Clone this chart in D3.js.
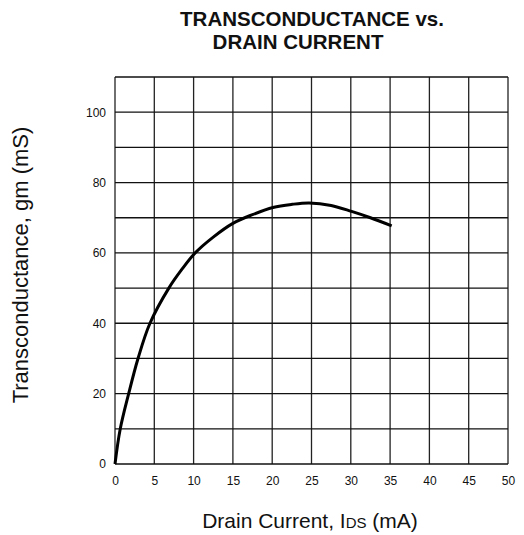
<!DOCTYPE html>
<html>
<head>
<meta charset="utf-8">
<script src="https://cdn.jsdelivr.net/npm/d3@7/dist/d3.min.js"></script>
<style>
  html, body { margin: 0; padding: 0; background: #fff; }
  svg { display: block; font-family: "Liberation Sans", Arial, Helvetica, sans-serif; }
</style>
</head>
<body>
<svg id="chart" width="524" height="535"></svg>
<script>
// Data
const drainCurrent = [0, 0.67, 1.74, 2.93, 4.45, 6.85, 8.5, 10.2, 12.5, 15, 17.4, 20.1, 22.5, 24.7, 27.5, 30.1, 32.5, 35.2];
const transconductance = [0, 10, 20, 30, 40, 50, 55.3, 60, 64.5, 68.4, 70.8, 72.9, 73.8, 74.2, 73.5, 71.8, 70.0, 67.7];
const xTicks = [0, 5, 10, 15, 20, 25, 30, 35, 40, 45, 50];
const yGrid = [0, 10, 20, 30, 40, 50, 60, 70, 80, 90, 100, 110];
const yTickLabels = [0, 20, 40, 60, 80, 100];

const svg = d3.select("#chart");
const pLeft = 115, pRight = 508, pTop = 77, pBottom = 464;

const x = d3.scaleLinear().domain([0, 50]).range([pLeft, pRight]);
const y = d3.scaleLinear().domain([0, 110]).range([pBottom, pTop]);

// Grid
const g = svg.append("g");
g.selectAll("line.v").data(xTicks).join("line")
  .attr("x1", d => x(d)).attr("x2", d => x(d))
  .attr("y1", pTop).attr("y2", pBottom)
  .attr("stroke", "#222").attr("stroke-width", 1.3);
g.selectAll("line.h").data(yGrid).join("line")
  .attr("x1", pLeft).attr("x2", pRight)
  .attr("y1", d => y(d)).attr("y2", d => y(d))
  .attr("stroke", "#111").attr("stroke-width", 1.3);

// X tick labels via axis
const xAxis = d3.axisBottom(x).tickValues(xTicks).tickSize(0).tickPadding(12);
const xa = svg.append("g").attr("transform", `translate(0,${pBottom})`).call(xAxis);
xa.select(".domain").remove();
xa.selectAll("text").attr("font-size", 12).attr("fill", "#111")
  .attr("font-family", "Liberation Sans, Arial, sans-serif");

// Y tick labels via axis
const yAxis = d3.axisLeft(y).tickValues(yTickLabels).tickSize(0).tickPadding(9);
const ya = svg.append("g").attr("transform", `translate(${pLeft},0)`).call(yAxis);
ya.select(".domain").remove();
ya.selectAll("text").attr("font-size", 12).attr("fill", "#111")
  .attr("font-family", "Liberation Sans, Arial, sans-serif");

// Curve
const line = d3.line()
  .x((d, i) => x(drainCurrent[i]))
  .y(d => y(d))
  .curve(d3.curveCatmullRom.alpha(0.5));
svg.append("path").datum(transconductance)
  .attr("d", line)
  .attr("fill", "none").attr("stroke", "#000").attr("stroke-width", 3)
  .attr("stroke-linejoin", "round").attr("stroke-linecap", "butt");

// Title
svg.append("text").attr("x", 312).attr("y", 26).attr("text-anchor", "middle")
  .attr("font-size", 20.5).attr("font-weight", "bold").attr("fill", "#111")
  .text("TRANSCONDUCTANCE vs.");
svg.append("text").attr("x", 298).attr("y", 49).attr("text-anchor", "middle")
  .attr("font-size", 20.5).attr("font-weight", "bold").attr("fill", "#111")
  .text("DRAIN CURRENT");

// Y axis title
svg.append("text")
  .attr("transform", `translate(28,265) rotate(-90)`)
  .attr("text-anchor", "middle")
  .attr("font-size", 22).attr("fill", "#111")
  .text("Transconductance, gm (mS)");

// X axis title
const xt = svg.append("text").attr("x", 310).attr("y", 528).attr("text-anchor", "middle")
  .attr("font-size", 21).attr("fill", "#111");
xt.append("tspan").text("Drain Current, I");
xt.append("tspan").attr("font-size", 15).text("DS");
xt.append("tspan").text(" (mA)");
</script>
</body>
</html>
